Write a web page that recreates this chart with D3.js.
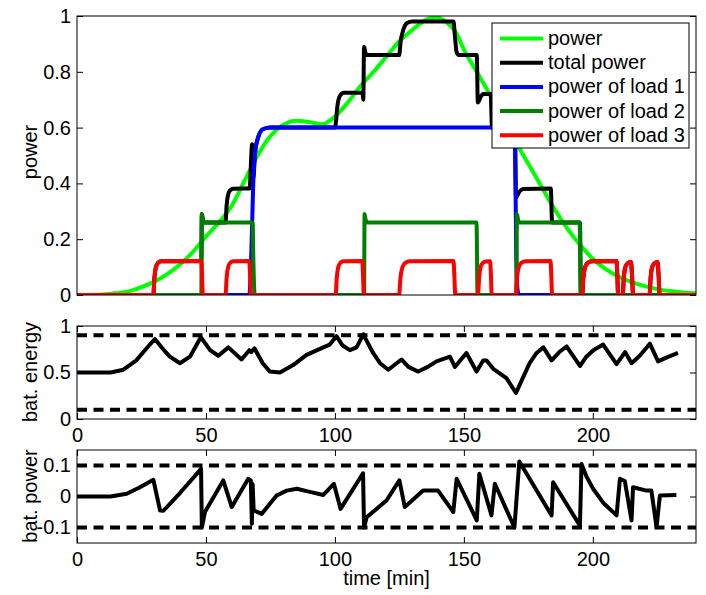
<!DOCTYPE html>
<html><head><meta charset="utf-8">
<script src="https://cdn.jsdelivr.net/npm/d3@7"></script>
<style>
body{margin:0;background:#fff}
text{font-family:"Liberation Sans",Arial,Helvetica,sans-serif}
</style>
</head><body>
<svg id="c" width="706" height="595"></svg>
<script>
// ---------------- data ----------------
const timeTicks = [0, 50, 100, 150, 200];
const powerTicks = [0, 0.2, 0.4, 0.6, 0.8, 1];
const energyTicks = [0, 0.5, 1];
const batPowerTicks = [-0.1, 0, 0.1];
const energyLimits = [0.1, 0.9];
const batPowerLimits = [-0.1, 0.1];
const legendLabels = ["power", "total power", "power of load 1", "power of load 2", "power of load 3"];

// requested power [t (min), p]
const power = [[0,0],[10,0.002],[15,0.006],[20,0.013],[25,0.028],[30,0.048],[35,0.075],[40,0.11],[45,0.155],
  [50,0.21],[55,0.26],[60,0.32],[65,0.41],[70,0.5],[75,0.57],[80,0.61],[85,0.625],[90,0.62],[95,0.612],
  [100,0.64],[105,0.69],[110,0.75],[115,0.8],[120,0.855],[125,0.91],[130,0.95],[135,0.985],[139,0.995],
  [143,0.98],[147,0.94],[150,0.88],[155,0.8],[160,0.72],[165,0.635],[170,0.55],[175,0.47],[180,0.39],
  [185,0.31],[190,0.24],[195,0.18],[200,0.13],[205,0.093],[210,0.066],[215,0.046],[220,0.032],[225,0.021],
  [230,0.014],[235,0.009],[240,0.006]];

// total power
const totalPower = [[0,0],[29.6,0],[30.0,0.06],[30.6,0.1],[31.4,0.115],[32.6,0.121],[48.2,0.122],[48.4,0.29],
  [48.8,0.27],[49.5,0.26],[57.6,0.26],[58.0,0.32],[58.6,0.36],[59.4,0.375],[60.6,0.381],[66.9,0.382],
  [67.9,0.54],[68.4,0.42],[69.0,0.505],[70.3,0.567],[72.2,0.595],[75,0.6],[100.0,0.6],[100.4,0.62],
  [101.0,0.68],[102.0,0.715],[103.5,0.725],[110.7,0.725],[111.0,0.70],[111.3,0.89],[111.8,0.87],[112.5,0.86],
  [124.9,0.86],[125.5,0.91],[126.5,0.95],[128,0.975],[130,0.98],[146.0,0.98],[146.5,0.93],[147.2,0.87],
  [148,0.86],[155.0,0.86],[155.4,0.69],[156.5,0.71],[157.5,0.72],[160.4,0.72],[160.9,0.6],[169.8,0.6],
  [170.2,0.35],[171.5,0.37],[173,0.38],[183.7,0.382],[184.2,0.26],[195.0,0.26],[195.4,0],[195.9,0],
  [196.3,0.06],[197.0,0.1],[198.0,0.115],[199.7,0.121],[209.2,0.122],[209.5,0.07],[209.8,0],[211.6,0],
  [212.0,0.06],[212.6,0.1],[213.4,0.113],[214.8,0.118],[215.2,0.07],[215.6,0],[222.0,0],[222.4,0.06],
  [223.0,0.1],[223.8,0.113],[225.1,0.118],[225.5,0.07],[225.9,0],[240,0]];

// load 1
const load1 = [[0,0],[66.8,0],[67.5,0.12],[68.3,0.39],[69.0,0.508],[70.3,0.567],[72.2,0.595],[75,0.6],
  [169.5,0.6],[169.9,0.5],[170.3,0.15],[170.8,0.02],[171.3,0],[240,0]];

// load 2
const load2 = [[0,0],[48.2,0],[48.4,0.29],[48.8,0.27],[49.5,0.26],[68.1,0.26],[68.4,0.12],[68.9,0],
  [111.3,0],[111.5,0.29],[111.9,0.27],[112.6,0.26],[154.9,0.26],[155.3,0],[170.3,0],[170.6,0.29],
  [171.0,0.27],[171.7,0.26],[194.9,0.26],[195.3,0],[240,0]];

// load 3
const load3 = [[0,0],
  [29.6,0],[30.0,0.06],[30.6,0.1],[31.4,0.115],[32.6,0.121],[48.2,0.122],[48.5,0.07],[48.8,0],
  [57.6,0],[58.0,0.06],[58.6,0.1],[59.4,0.115],[60.6,0.121],[66.8,0.122],[67.1,0.07],[67.4,0],
  [100.3,0],[100.7,0.06],[101.3,0.1],[102.1,0.115],[103.3,0.121],[110.6,0.122],[110.9,0.07],[111.2,0],
  [124.9,0],[125.4,0.06],[126.2,0.1],[127.3,0.115],[129.0,0.121],[146.0,0.122],[146.3,0.07],[146.7,0],
  [155.5,0],[155.9,0.06],[156.5,0.1],[157.3,0.115],[158.5,0.12],[160.2,0.121],[160.5,0.07],[160.8,0],
  [170.2,0],[170.6,0.06],[171.3,0.1],[172.3,0.115],[174.0,0.121],[183.6,0.122],[183.9,0.07],[184.2,0],
  [195.9,0],[196.3,0.06],[197.0,0.1],[198.0,0.115],[199.7,0.121],[209.2,0.122],[209.5,0.07],[209.8,0],
  [211.6,0],[212.0,0.06],[212.6,0.1],[213.4,0.113],[214.8,0.118],[215.2,0.07],[215.6,0],
  [222.0,0],[222.4,0.06],[223.0,0.1],[223.8,0.113],[225.1,0.118],[225.5,0.07],[225.9,0],
  [240,0]];

// battery energy
const batEnergy = [[0,0.5],[6,0.5],[13,0.5],[18,0.53],[23,0.63],[27,0.76],[30.2,0.86],[33.4,0.75],[36,0.67],
  [39.9,0.6],[43.8,0.67],[48,0.88],[51.6,0.74],[54.8,0.68],[58.7,0.77],[63.8,0.64],[66.8,0.74],[67.6,0.72],
  [68.8,0.76],[72,0.6],[74.8,0.51],[78.7,0.5],[83.8,0.58],[89,0.69],[95.5,0.77],[98,0.8],[100.6,0.89],
  [103,0.79],[105.8,0.74],[108.4,0.77],[111,0.91],[114.8,0.71],[117.5,0.6],[120.7,0.53],[125.8,0.64],
  [128.5,0.56],[132.3,0.51],[136,0.56],[139.4,0.62],[144.6,0.67],[146.5,0.56],[151,0.71],[154.9,0.51],
  [157.5,0.63],[158.8,0.63],[161.4,0.54],[166.5,0.44],[170.2,0.28],[173,0.45],[175.5,0.6],[178.2,0.71],
  [180.8,0.77],[184,0.63],[187,0.72],[189.8,0.78],[195,0.57],[197.5,0.67],[200.2,0.74],[204,0.8],
  [209.2,0.59],[212.5,0.72],[215,0.6],[218.2,0.68],[222.1,0.81],[225.3,0.62],[228.5,0.66],[233,0.71]];

// battery power
const batPower = [[0,0],[13,0],[19.3,0.009],[24.4,0.03],[29.6,0.054],[32.2,-0.045],[33.5,-0.046],
  [40,0.012],[47.7,0.085],[48.1,0.09],[48.4,-0.1],[49.6,-0.05],[56.7,0.052],[60,-0.034],[66.4,0.057],
  [67.4,0.052],[67.8,-0.088],[68.1,0.04],[68.5,-0.045],[71.6,-0.056],[77.4,0.003],[81.3,0.019],
  [85.2,0.025],[90.3,0.015],[95.5,0.005],[99.6,0.041],[102.2,-0.04],[110.9,0.075],[111.3,-0.1],
  [112.3,-0.067],[120,-0.013],[125,0.052],[127.1,-0.034],[134.2,0.019],[140,0.019],[145.9,-0.05],
  [147.2,0.057],[155,-0.077],[156,0.073],[160.7,-0.061],[162,0.041],[169.6,-0.1],[171.5,0.113],
  [184,-0.061],[184.6,0.046],[195,-0.094],[195.6,0.105],[197.5,0.065],[200.1,0.025],[204,-0.02],
  [209.2,-0.061],[210.5,0.057],[212.4,0.05],[215,-0.077],[215.6,0.03],[220.8,0.019],[222.7,0.019],
  [224.7,-0.099],[226,0.003],[232.4,0.005]];

// ---------------- drawing ----------------
const svg = d3.select('#c');
const X0 = 77, X1 = 696;
const x = d3.scaleLinear().domain([0, 240]).range([X0, X1]);
const yTop = d3.scaleLinear().domain([0, 1]).range([295, 16]);
const yMid = d3.scaleLinear().domain([0, 1]).range([419, 326]);
const yBot = d3.scaleLinear().domain([-0.15, 0.15]).range([543, 450]);
const FS = 20;
const defs = svg.append('defs');

function styleAxis(g) {
  g.select('.domain').remove();
  g.attr('font-size', FS).attr('font-family', '"Liberation Sans",Arial,sans-serif');
  g.selectAll('.tick line').attr('stroke', '#000');
  g.selectAll('.tick text').attr('fill', '#000');
}

function panel(y, yTicks, opts) {
  const [yb, yt] = y.range();
  const id = opts.id;
  defs.append('clipPath').attr('id', id).append('rect')
    .attr('x', X0).attr('y', yt).attr('width', X1 - X0).attr('height', yb - yt);
  const g = svg.append('g');
  g.append('g').attr('transform', `translate(${X0},0)`)
    .call(d3.axisLeft(y).tickValues(yTicks).tickSize(-6).tickPadding(6).tickFormat(d => String(d)))
    .call(styleAxis);
  g.append('g').attr('transform', `translate(${X1},0)`)
    .call(d3.axisRight(y).tickValues(yTicks).tickSize(-6).tickFormat(''))
    .call(styleAxis);
  if (opts.xAxis) {
    g.append('g').attr('transform', `translate(0,${yb})`)
      .call(d3.axisBottom(x).tickValues(timeTicks).tickSize(-6).tickPadding(9).tickFormat(d => String(d)))
      .call(styleAxis);
    g.append('g').attr('transform', `translate(0,${yt})`)
      .call(d3.axisTop(x).tickValues(timeTicks).tickSize(-6).tickFormat(''))
      .call(styleAxis);
  }
  const plot = svg.append('g').attr('clip-path', `url(#${id})`);
  svg.append('text').attr('transform', `translate(37,${opts.labelY}) rotate(-90)`)
    .attr('text-anchor', 'middle').attr('font-size', FS).text(opts.label);
  return {g, plot, yb, yt};
}

// ---- top panel ----
const topP = panel(yTop, powerTicks, {id: 'clipTop', xAxis: false, label: 'power', labelY: 152});
const lineTop = d3.line().x(d => x(d[0])).y(d => yTop(d[1])).curve(d3.curveMonotoneX);
const topSeries = [
  {data: power, color: '#00ff00'},
  {data: totalPower, color: '#000000'},
  {data: load1, color: '#0000ff'},
  {data: load2, color: '#008000'},
  {data: load3, color: '#ff0000'}
];
topSeries.forEach(s => {
  topP.plot.append('path').datum(s.data).attr('d', lineTop)
    .attr('fill', 'none').attr('stroke', s.color).attr('stroke-width', 4)
    .attr('stroke-linejoin', 'round').attr('stroke-linecap', 'round');
});
svg.append('rect').attr('x', X0).attr('y', topP.yt).attr('width', X1 - X0).attr('height', topP.yb - topP.yt)
  .attr('fill', 'none').attr('stroke', '#000').attr('stroke-width', 1);

// legend
const lg = svg.append('g');
lg.append('rect').attr('x', 492).attr('y', 23).attr('width', 197).attr('height', 125)
  .attr('fill', '#fff').attr('stroke', '#000').attr('stroke-width', 1);
legendLabels.forEach((lab, i) => {
  const cy = 38.5 + i * 24.2;
  lg.append('line').attr('x1', 500).attr('x2', 543).attr('y1', cy).attr('y2', cy)
    .attr('stroke', topSeries[i].color).attr('stroke-width', 4);
  lg.append('text').attr('x', 548).attr('y', cy + 6.5).attr('font-size', FS).text(lab);
});

// ---- middle panel ----
const midP = panel(yMid, energyTicks, {id: 'clipMid', xAxis: true, label: 'bat. energy', labelY: 372});
const lineMid = d3.line().x(d => x(d[0])).y(d => yMid(d[1]));
energyLimits.forEach(v => {
  midP.plot.append('path').datum([[0, v], [240, v]]).attr('d', lineMid)
    .attr('fill', 'none').attr('stroke', '#000').attr('stroke-width', 4).attr('stroke-dasharray', '10,6.5');
});
midP.plot.append('path').datum(batEnergy).attr('d', lineMid)
  .attr('fill', 'none').attr('stroke', '#000').attr('stroke-width', 4).attr('stroke-linejoin', 'round');
svg.append('rect').attr('x', X0).attr('y', midP.yt).attr('width', X1 - X0).attr('height', midP.yb - midP.yt)
  .attr('fill', 'none').attr('stroke', '#000').attr('stroke-width', 1);

// ---- bottom panel ----
const botP = panel(yBot, batPowerTicks, {id: 'clipBot', xAxis: true, label: 'bat. power', labelY: 496});
const lineBot = d3.line().x(d => x(d[0])).y(d => yBot(d[1]));
batPowerLimits.forEach(v => {
  botP.plot.append('path').datum([[0, v], [240, v]]).attr('d', lineBot)
    .attr('fill', 'none').attr('stroke', '#000').attr('stroke-width', 4).attr('stroke-dasharray', '10,6.5');
});
botP.plot.append('path').datum(batPower).attr('d', lineBot)
  .attr('fill', 'none').attr('stroke', '#000').attr('stroke-width', 4).attr('stroke-linejoin', 'round');
svg.append('rect').attr('x', X0).attr('y', botP.yt).attr('width', X1 - X0).attr('height', botP.yb - botP.yt)
  .attr('fill', 'none').attr('stroke', '#000').attr('stroke-width', 1);

svg.append('text').attr('x', x(120)).attr('y', 585).attr('text-anchor', 'middle')
  .attr('font-size', FS).text('time [min]');
</script>
</body></html>
